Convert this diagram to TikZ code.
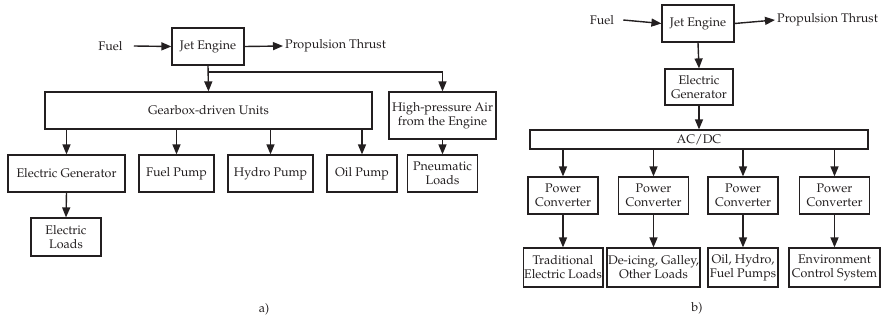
\documentclass[tikz,border=0pt]{standalone}
\usepackage[T1]{fontenc}
\usepackage{mathpazo}
\definecolor{mInk}{HTML}{231F20}
\usepackage{tikz}
\usetikzlibrary{positioning,arrows.meta,calc}

\tikzset{
  blk/.style={draw=mInk, line width=1.2pt, inner sep=1pt, align=center, text=mInk},
  lbl/.style={inner sep=2pt, text=mInk},
  arr/.style={draw=mInk, line width=1.4pt, -{Triangle[length=10pt,width=8pt]}},
}

\begin{document}
\begin{tikzpicture}[x=1pt, y=1pt, font=\fontsize{12.5}{14}\selectfont]
\useasboundingbox (0,0) rectangle (886,-321);

% ---- a) conventional architecture
\node[lbl, inner xsep=11pt] (fuelA) at (110.5,-46) {Fuel};
\node[blk, minimum width=72pt, minimum height=37pt] (jetA) at (208,-46.5) {Jet Engine};
\node[lbl, anchor=west] (thrustA) at (283,-46) {Propulsion Thrust};
\node[blk, minimum width=327pt, minimum height=37pt] (gearA) at (208.5,-110.5) {Gearbox-driven Units};
\node[blk, minimum width=107pt, minimum height=47pt] (hpA) at (442.5,-115.5) {High-pressure Air\\from the Engine};
\node[blk, minimum width=117pt, minimum height=37pt] (egA) at (66.5,-173.5) {Electric Generator};
\node[blk, minimum width=75pt, minimum height=37pt] (fuelpA) at (176.5,-173.5) {Fuel Pump};
\node[blk, minimum width=85pt, minimum height=37pt] (hydroA) at (270.5,-173.5) {Hydro Pump};
\node[blk, minimum width=70pt, minimum height=37pt] (oilA) at (362,-173.5) {Oil Pump};
\node[blk, minimum width=70pt, minimum height=37pt] (pneuA) at (442.5,-173.5) {Pneumatic\\Loads};
\node[blk, minimum width=70pt, minimum height=38pt] (elA) at (66,-237) {Electric\\Loads};
\node[lbl] (capA) at (264,-309) {a)};

\coordinate (splitA) at (208,-72);
\draw[arr] (fuelA.east) -- (jetA.west);
\draw[arr] (jetA.east) -- (thrustA.west);
\draw[arr] (jetA.south) -- (gearA.north);
\draw[arr] (splitA) -| (hpA.north);
\foreach \n in {egA,fuelpA,hydroA,oilA}
  \draw[arr] (gearA.south -| \n.north) -- (\n.north);
\draw[arr] (hpA.south) -- (pneuA.north);
\draw[arr] (egA.south) -- (elA.north);

% ---- b) more-electric architecture
\node[lbl, inner xsep=9pt] (fuelB) at (602,-20) {Fuel};
\node[blk, minimum width=72pt, minimum height=37pt] (jetB) at (698,-23.5) {Jet Engine};
\node[lbl, anchor=west] (thrustB) at (775,-20) {Propulsion Thrust};
\node[blk, minimum width=68pt, minimum height=36pt] (egB) at (699,-87) {Electric\\Generator};
\node[blk, minimum width=338pt, minimum height=19pt] (acdc) at (699,-139.5) {AC/DC};
\node[lbl] (capB) at (697,-308) {b)};

% converter columns: x, box widths, load text
\foreach \i/\x/\w/\t in {1/563/79/{Traditional\\Electric Loads},
                         2/653.5/89/{De-icing, Galley,\\Other Loads},
                         3/743/70/{Oil, Hydro,\\Fuel Pumps},
                         4/834.5/91/{Environment\\Control System}}{
  \node[blk, minimum width=70pt, minimum height=37pt] (pc\i) at (\x,-195.5) {Power\\Converter};
  \node[blk, minimum width=\w pt, minimum height=39pt] (load\i) at (\x,-267.5) {\t};
  \draw[arr] (acdc.south -| pc\i.north) -- (pc\i.north);
  \draw[arr] (pc\i.south) -- (load\i.north);
}

\draw[arr] (fuelB.east) -- (jetB.west);
\draw[arr] (jetB.east) -- (thrustB.west);
\draw[arr] (jetB.south) -- (egB.north);
\draw[arr] (egB.south) -- (acdc.north);
\end{tikzpicture}
\end{document}
